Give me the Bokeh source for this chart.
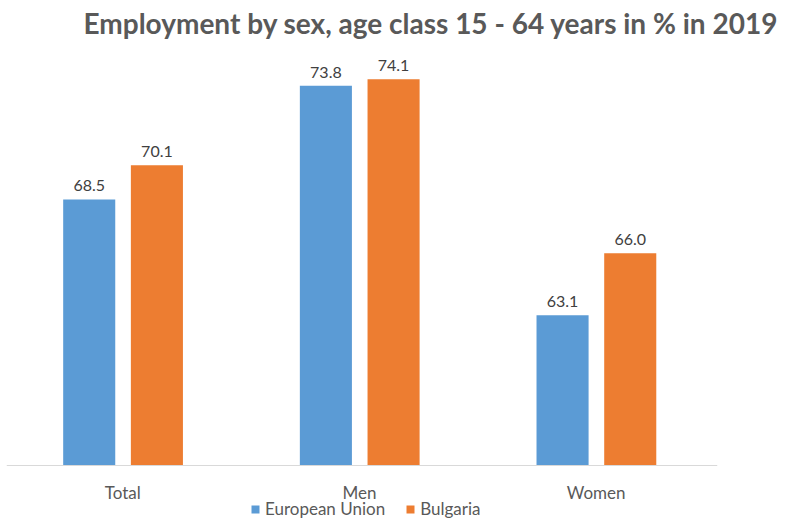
from bokeh.plotting import figure
from bokeh.models import ColumnDataSource, Range1d, FixedTicker, Legend, LegendItem
from bokeh.transform import dodge
from bokeh.core.properties import value
from bokeh.embed import file_html
from bokeh.resources import INLINE

categories = ["Total", "Men", "Women"]
eu_values = [68.5, 73.8, 63.1]
bg_values = [70.1, 74.1, 66.0]
series_names = ["European Union", "Bulgaria"]
title_text = "Employment by sex, age class 15 - 64 years in % in 2019"

Y_MIN = 56.1          # baseline of the bars (axis line)
Y_LOW = 53.54         # range start, leaves room below the axis for labels and legend
Y_MAX = 75.91
FONT = "Lato"
BLUE, ORANGE = "#5B9BD5", "#ED7D31"
TXT = "#595959"

xs = list(range(len(categories)))
src = ColumnDataSource(dict(
    x=xs, eu=eu_values, bg=bg_values,
    eu_t=[f"{v:.1f}" for v in eu_values],
    bg_t=[f"{v:.1f}" for v in bg_values],
))

p = figure(width=780, height=520, output_backend="svg", toolbar_location=None,
           x_range=Range1d(-0.4915, 2.5127), y_range=Range1d(Y_LOW, Y_MAX),
           min_border_left=6, min_border_right=63, min_border_top=40, min_border_bottom=0,
           title=title_text)
p.title.text_font = FONT
p.title.text_font_size = "28px"
p.title.text_font_style = "bold"
p.title.text_color = TXT
p.title.align = "left"
p.title.offset = 77
p.title.standoff = 2

p.outline_line_color = None
p.grid.visible = False
p.yaxis.visible = False

ax = p.xaxis[0]
ax.fixed_location = Y_MIN
ax.ticker = FixedTicker(ticks=xs)
ax.major_label_overrides = {i: c for i, c in zip(xs, categories)}
ax.major_tick_line_color = None
ax.minor_tick_line_color = None
ax.axis_line_color = "#D9D9D9"
ax.axis_line_width = 1
ax.major_label_text_font = FONT
ax.major_label_text_font_size = "17px"
ax.major_label_text_color = TXT
ax.major_label_standoff = 10

W = 0.22
r_eu = p.vbar(x=dodge("x", -0.142, range=p.x_range), top="eu", bottom=Y_MIN, width=W,
              source=src, fill_color=BLUE, line_color=None)
r_bg = p.vbar(x=dodge("x", 0.144, range=p.x_range), top="bg", bottom=Y_MIN, width=W,
              source=src, fill_color=ORANGE, line_color=None)

for off, col, tcol in [(-0.142, "eu", "eu_t"), (0.144, "bg", "bg_t")]:
    p.text(x=dodge("x", off, range=p.x_range), y=col, text=tcol, source=src,
           text_align="center", text_baseline="bottom", y_offset=-8,
           text_font=value(FONT), text_font_size="16px", text_color="#404040")

legend = Legend(items=[LegendItem(label=series_names[0], renderers=[r_eu]),
                       LegendItem(label=series_names[1], renderers=[r_bg])],
                orientation="horizontal", location=(244, 1),
                glyph_width=10, glyph_height=10, label_standoff=5, spacing=20,
                padding=0, margin=0, border_line_color=None, background_fill_alpha=0,
                label_text_font=FONT, label_text_font_size="17px", label_text_color=TXT)
p.add_layout(legend, "center")

open("out.html", "w").write(file_html(p, INLINE))
